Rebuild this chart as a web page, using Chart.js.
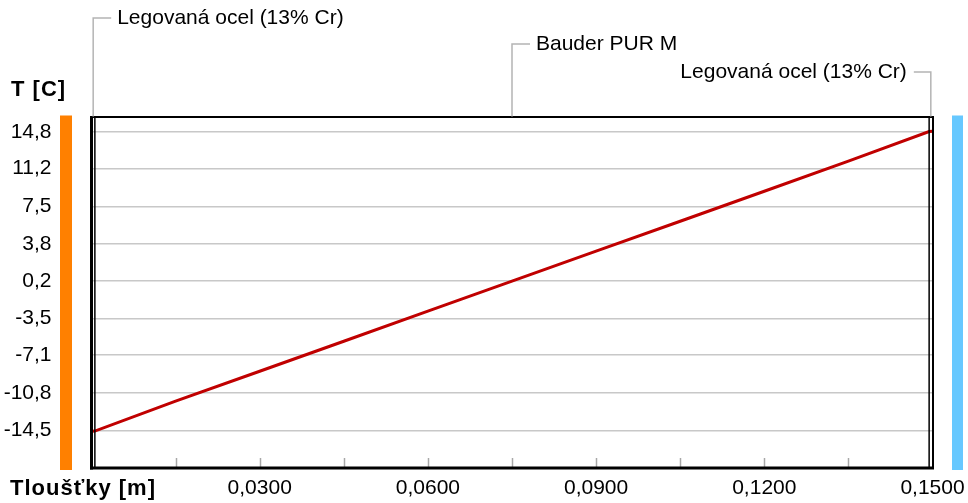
<!DOCTYPE html>
<html>
<head>
<meta charset="utf-8">
<script src="https://cdn.jsdelivr.net/npm/chart.js@4.4.1/dist/chart.umd.min.js"></script>
<style>
  html, body { margin: 0; padding: 0; background: #fff; }
  #wrap { width: 968px; height: 503px; position: relative; }
</style>
</head>
<body>
<div id="wrap"><canvas id="c" width="968" height="503"></canvas></div>
<script>
// ---- data ----
const thickness = [0, 0.0006, 0.015, 0.03, 0.045, 0.06, 0.075, 0.09, 0.105, 0.12, 0.135, 0.1494, 0.15];
const temperature = [-14.55, -14.54, -11.61, -8.67, -5.73, -2.78, 0.16, 3.10, 6.04, 8.98, 11.93, 14.84, 14.87];
const yTickValues = [14.8, 11.2, 7.5, 3.8, 0.2, -3.5, -7.1, -10.8, -14.5];
const xLabelTicks = [0.03, 0.06, 0.09, 0.12, 0.15];
const xMarkTicks = [0.015, 0.03, 0.045, 0.06, 0.075, 0.09, 0.105, 0.12, 0.135];
const layerBounds = [0, 0.0006, 0.1494, 0.15];
const layerNames = ['Legovaná ocel (13% Cr)', 'Bauder PUR M', 'Legovaná ocel (13% Cr)'];
const yTitle = 'T [C]';
const xTitle = 'Tloušťky [m]';

const FONT = "'Liberation Sans', Arial, sans-serif";
Chart.defaults.font.family = FONT;
Chart.defaults.font.size = 21;
Chart.defaults.color = '#000';

const decor = {
  id: 'decor',
  afterDraw(chart) {
    const ctx = chart.ctx;
    const a = chart.chartArea;
    const xs = chart.scales.x;
    ctx.save();
    // boundary bars
    ctx.fillStyle = '#ff8000';
    ctx.fillRect(60, a.top - 1, 12, 470 - a.top + 1);
    ctx.fillStyle = '#66c8ff';
    ctx.fillRect(952, a.top - 1, 11, 470 - a.top + 1);

    // inward tick marks on x axis
    ctx.strokeStyle = '#a8a8a8';
    ctx.lineWidth = 1.5;
    xMarkTicks.forEach(v => {
      const px = Math.round(xs.getPixelForValue(v)) + 0.5;
      ctx.beginPath(); ctx.moveTo(px, a.bottom - 10); ctx.lineTo(px, a.bottom); ctx.stroke();
    });

    // frame
    ctx.strokeStyle = '#000';
    ctx.lineWidth = 2;
    ctx.beginPath(); ctx.moveTo(a.left - 1.5, a.top + 0.5); ctx.lineTo(a.right + 1.5, a.top + 0.5); ctx.stroke();
    // layer boundaries
    ctx.lineWidth = 1.5;
    [layerBounds[1], layerBounds[2]].forEach(v => {
      const px = xs.getPixelForValue(v);
      ctx.beginPath(); ctx.moveTo(px, a.top); ctx.lineTo(px, a.bottom); ctx.stroke();
    });
    ctx.lineWidth = 2;
    ctx.beginPath(); ctx.moveTo(a.right + 0.5, a.top); ctx.lineTo(a.right + 0.5, a.bottom); ctx.stroke();
    ctx.lineWidth = 3;
    ctx.beginPath(); ctx.moveTo(a.left, a.top); ctx.lineTo(a.left, a.bottom + 1.5); ctx.stroke();
    ctx.beginPath(); ctx.moveTo(a.left - 1.5, a.bottom); ctx.lineTo(a.right + 1.5, a.bottom); ctx.stroke();

    // layer labels with leaders
    const labelY = [18, 44, 72];
    ctx.strokeStyle = '#b4b4b4';
    ctx.lineWidth = 1.5;
    ctx.font = '21px ' + FONT;
    ctx.fillStyle = '#000';
    ctx.textBaseline = 'middle';
    for (let i = 0; i < layerNames.length; i++) {
      const mid = xs.getPixelForValue((layerBounds[i] + layerBounds[i + 1]) / 2);
      const ly = labelY[i];
      const right = i === layerNames.length - 1;
      const hx = right ? mid - 17 : mid + 18;
      ctx.beginPath();
      ctx.moveTo(mid, a.top); ctx.lineTo(mid, ly); ctx.lineTo(hx, ly);
      ctx.stroke();
      if (right) { ctx.textAlign = 'right'; ctx.fillText(layerNames[i], hx - 7, ly); }
      else { ctx.textAlign = 'left'; ctx.fillText(layerNames[i], hx + 6, ly); }
    }

    // axis titles
    ctx.font = 'bold 22px ' + FONT;
    try { ctx.letterSpacing = '1px'; } catch (e) {}
    ctx.textAlign = 'left';
    ctx.fillText(yTitle, 11, 90);
    ctx.fillText(xTitle, 10, 489);
    ctx.restore();
  }
};

new Chart(document.getElementById('c'), {
  type: 'line',
  data: {
    datasets: [{
      data: thickness.map((t, i) => ({ x: t, y: temperature[i] })),
      borderColor: '#c00000',
      borderWidth: 3,
      pointRadius: 0,
      tension: 0,
      fill: false
    }]
  },
  options: {
    responsive: false,
    animation: false,
    events: [],
    layout: { padding: { top: 116.5, right: 35.5, left: 0, bottom: 0 } },
    plugins: { legend: { display: false }, tooltip: { enabled: false } },
    scales: {
      x: {
        type: 'linear',
        min: 0, max: 0.15,
        afterFit(s) { s.height = 35; s.paddingLeft = 0; s.paddingRight = 0; s.paddingTop = 0; s.paddingBottom = 0; },
        afterBuildTicks(s) { s.ticks = xLabelTicks.map(v => ({ value: v })); },
        grid: { display: false, drawTicks: false },
        border: { display: false },
        ticks: {
          autoSkip: false, maxRotation: 0, padding: 8,
          callback: v => v.toFixed(4).replace('.', ',')
        }
      },
      y: {
        type: 'linear',
        min: -18.16, max: 16.31,
        afterFit(s) { s.width = 91.5; s.paddingLeft = 0; s.paddingRight = 0; s.paddingTop = 0; s.paddingBottom = 0; },
        afterBuildTicks(s) { s.ticks = yTickValues.map(v => ({ value: v })); },
        grid: { color: '#c8c8c8', lineWidth: 1.5, drawTicks: false },
        border: { display: false },
        ticks: {
          autoSkip: false, padding: 40,
          callback: v => v.toFixed(1).replace('.', ',')
        }
      }
    }
  },
  plugins: [decor]
});
</script>
</body>
</html>
